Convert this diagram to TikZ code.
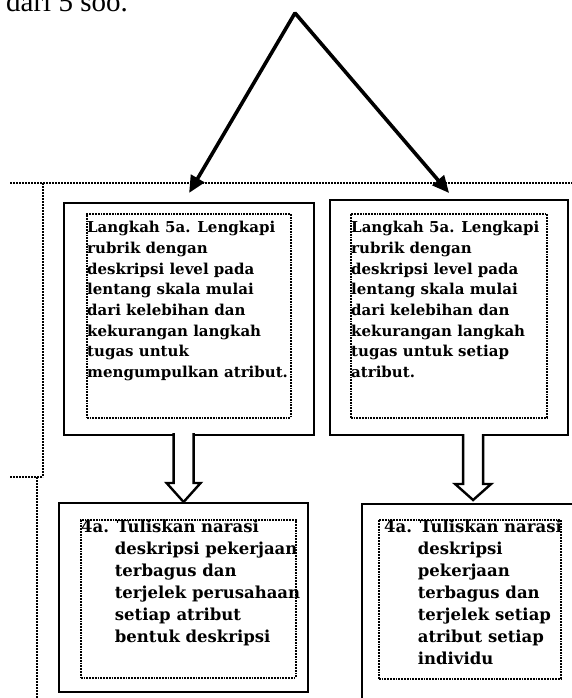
\documentclass[tikz,border=0pt]{standalone}
\usepackage{fontspec}
\setmainfont{DejaVu Serif}
\newfontfamily\headfont{Liberation Serif}
\usetikzlibrary{arrows.meta,calc}

\begin{document}
\begin{tikzpicture}[x=1pt,y=-1pt,
  outerbox/.style={draw, line width=2.2pt, anchor=north west, inner sep=0pt},
  dotbox/.style={draw, line width=1.6pt, dash pattern=on 1.8pt off 1pt, anchor=north west, inner sep=0pt},
  guide/.style={line width=2pt, dash pattern=on 2pt off 1pt},
  body/.style={anchor=north west, inner sep=0pt, align=left,
    font=\bfseries\fontsize{15}{20.7}\selectfont},
  lowbody/.style={anchor=north west, inner sep=0pt, align=left,
    font=\bfseries\fontsize{16.5}{22}\selectfont},
  hollow/.style={draw, line width=2.4pt, fill=white, line join=miter},
  pointer/.style={line width=3.6pt, line join=bevel,
    {Triangle[length=17pt,width=15pt]}-{Triangle[length=17pt,width=15pt]}},
]
\useasboundingbox (0,0) rectangle (572,698);

% heading line, partly above the page edge
\node[anchor=base west, inner sep=0pt, font=\headfont\fontsize{29}{29}\selectfont]
  (head) at (6,12) {dari 5 soo.};

% dotted frame lines
\draw[guide] (10,183) -- (572,183);
\draw[guide] (43,183) -- (43,477);
\draw[guide] (10,477) -- (43,477);
\draw[guide] (37,477) -- (37,698);

% outer boxes
\node[outerbox, minimum width=250pt, minimum height=232pt] (b1) at (63,202) {};
\node[outerbox, minimum width=238pt, minimum height=235pt] (b2) at (329,199) {};
\node[outerbox, minimum width=249pt, minimum height=189pt] (b3) at (58,502) {};
\node[outerbox, minimum width=222pt, minimum height=210pt] (b4) at (361,503) {};

% inner dotted boxes
\node[dotbox, minimum width=204pt, minimum height=204pt] (in1) at (86,213) {};
\node[dotbox, minimum width=196pt, minimum height=204pt] (in2) at (350,213) {};
\node[dotbox, minimum width=215pt, minimum height=158pt] (in3) at (80,519) {};
\node[dotbox, minimum width=182pt, minimum height=159pt] (in4) at (378,519) {};

% texts
\node[body] (t1) at ($(in1.north west)+(1,8)$) {Langkah 5a. Lengkapi\\rubrik dengan\\deskripsi level pada\\lentang skala mulai\\dari kelebihan dan\\kekurangan langkah\\tugas untuk\\mengumpulkan atribut.};
\node[body] (t2) at ($(in2.north west)+(1,8)$) {Langkah 5a. Lengkapi\\rubrik dengan\\deskripsi level pada\\lentang skala mulai\\dari kelebihan dan\\kekurangan langkah\\tugas untuk setiap\\atribut.};
\node[lowbody] (t3) at ($(in3.north west)+(1,1)$) {4a. Tuliskan narasi\\\phantom{4a.\ }deskripsi pekerjaan\\\phantom{4a.\ }terbagus dan\\\phantom{4a.\ }terjelek perusahaan\\\phantom{4a.\ }setiap atribut\\\phantom{4a.\ }bentuk deskripsi};
\node[lowbody] (t4) at ($(in4.north west)+(6,1)$) {4a. Tuliskan narasi\\\phantom{4a.\ }deskripsi\\\phantom{4a.\ }pekerjaan\\\phantom{4a.\ }terbagus dan\\\phantom{4a.\ }terjelek setiap\\\phantom{4a.\ }atribut setiap\\\phantom{4a.\ }individu};

% split pointer from the apex to both upper boxes
\coordinate (apex) at (295,13);
\draw[pointer] ($(b1.north)+(0,-9)$) -- (apex) -- ($(b2.north)+(0,-6)$);

% hollow block arrows between the rows
\draw[hollow] ($(b3.north)+(-10,-69)$) -- ($(b3.north)+(-10,-19)$) -- ($(b3.north)+(-17,-19)$)
  -- (b3.north) -- ($(b3.north)+(17,-19)$) -- ($(b3.north)+(10,-19)$) -- ($(b3.north)+(10,-69)$);
\draw[hollow] ($(b4.north)+(-10,-69)$) -- ($(b4.north)+(-10,-19)$) -- ($(b4.north)+(-18,-19)$)
  -- ($(b4.north)+(0,-3)$) -- ($(b4.north)+(18,-19)$) -- ($(b4.north)+(10,-19)$) -- ($(b4.north)+(10,-69)$);
\end{tikzpicture}
\end{document}
